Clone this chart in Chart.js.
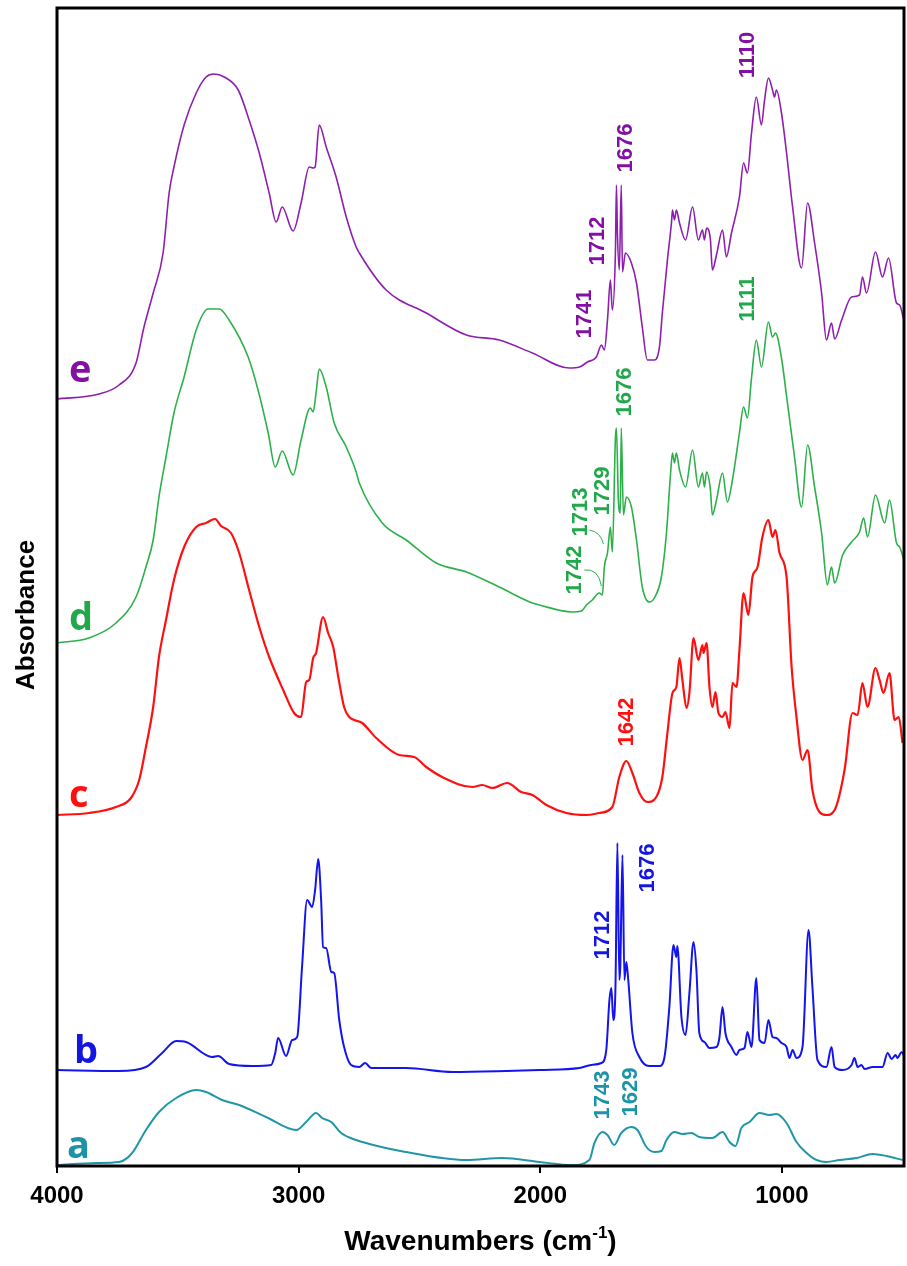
<!DOCTYPE html>
<html>
<head>
<meta charset="utf-8">
<script src="https://cdn.jsdelivr.net/npm/chart.js@4.4.1/dist/chart.umd.min.js"></script>
<style>
  html, body { margin: 0; padding: 0; background: #fff; }
  #wrap { width: 907px; height: 1266px; }
</style>
</head>
<body>
<div id="wrap"><canvas id="ftirChart" width="907" height="1266"></canvas></div>
<script>
// tick labels on the wavenumber axis
const xTicks = [4000, 3000, 2000, 1000];

// spectrum e
const eWave = [4000,3826,3743,3673,3640,3602,3561,3536,3516,3474,3424,3383,3350,3308,3250,3205,3163,3122,3093,3068,3023,2990,2956,2940,2932,2915,2886,2845,2803,2762,2749,2638,2472,2306,2170,2033,1880,1838,1805,1768,1747,1735,1722,1710,1702,1689,1685,1681,1673,1665,1660,1648,1623,1602,1578,1557,1528,1507,1495,1474,1457,1453,1445,1437,1424,1399,1370,1346,1329,1321,1312,1296,1288,1271,1246,1230,1209,1176,1159,1143,1126,1106,1085,1072,1056,1039,1031,1023,1002,981,956,919,894,865,836,816,795,782,753,712,679,667,650,613,584,559,526,513,493];
const eAbs = [7.67,7.72,7.81,8.03,8.39,8.73,9.13,9.73,9.99,10.41,10.73,10.89,10.92,10.89,10.76,10.46,10.13,9.73,9.44,9.59,9.35,9.63,9.99,9.98,9.99,10.41,10.19,9.89,9.49,9.19,9.13,8.76,8.53,8.31,8.26,8.13,7.98,7.99,8.04,8.09,8.21,8.16,8.46,8.86,8.56,9.16,9.81,9.33,8.96,9.81,8.94,9.13,9.03,8.83,8.39,8.06,8.06,8.19,8.53,9.06,9.44,9.56,9.46,9.56,9.43,9.26,9.59,9.26,9.36,9.26,9.38,9.26,8.96,9.11,9.36,9.09,9.33,9.69,10.03,9.93,10.33,10.69,10.41,10.66,10.88,10.76,10.69,10.76,10.53,10.13,9.59,8.98,9.63,9.23,8.73,8.26,8.43,8.27,8.46,8.69,8.71,8.89,8.73,9.14,8.89,9.08,8.63,8.61,8.43];

// spectrum d
const dWave = [4000,3868,3756,3673,3632,3602,3578,3549,3516,3474,3424,3375,3329,3288,3209,3168,3126,3097,3068,3023,2990,2952,2940,2928,2915,2886,2853,2803,2762,2749,2654,2555,2431,2306,2170,2033,2004,1867,1830,1809,1785,1756,1743,1735,1722,1710,1702,1689,1685,1677,1669,1665,1656,1644,1623,1602,1578,1549,1528,1499,1478,1462,1453,1445,1437,1424,1399,1370,1346,1329,1321,1312,1296,1288,1271,1246,1226,1205,1176,1159,1143,1126,1106,1085,1056,1039,1027,1002,981,948,919,894,865,836,812,795,782,749,712,679,662,646,613,575,555,526,513,493];
const dAbs = [5.23,5.28,5.43,5.69,5.99,6.26,6.69,7.09,7.53,7.89,8.36,8.57,8.57,8.46,8.09,7.76,7.33,6.99,7.15,6.91,7.26,7.58,7.54,7.73,7.97,7.79,7.43,7.19,6.94,6.83,6.43,6.26,6.03,5.94,5.79,5.63,5.61,5.54,5.55,5.61,5.66,5.73,5.71,5.99,6.13,6.39,6.14,7.29,7.38,6.66,6.53,7.38,6.51,6.69,6.59,6.26,5.79,5.64,5.68,5.89,6.33,6.89,7.13,7.03,7.13,6.96,6.79,7.16,6.79,6.93,6.79,6.94,6.76,6.51,6.66,6.93,6.64,6.86,7.33,7.59,7.48,7.88,8.26,7.99,8.44,8.29,8.33,8.08,7.70,7.09,6.59,7.21,6.79,6.33,5.81,5.99,5.83,6.11,6.24,6.34,6.48,6.29,6.71,6.43,6.66,6.23,6.19,6.04];

// spectrum c
const cWave = [4000,3868,3756,3694,3660,3632,3602,3578,3549,3516,3474,3424,3383,3346,3321,3280,3246,3205,3163,3122,3064,3019,2990,2969,2956,2940,2928,2899,2878,2857,2836,2812,2791,2737,2679,2584,2522,2472,2406,2281,2240,2199,2137,2079,2033,1975,1892,1809,1756,1702,1673,1644,1619,1590,1557,1520,1495,1474,1453,1437,1424,1412,1395,1383,1366,1346,1329,1325,1312,1300,1288,1275,1263,1246,1234,1217,1205,1188,1176,1159,1139,1122,1101,1081,1056,1039,1027,1010,981,960,940,915,894,874,845,816,782,741,708,687,667,646,613,596,580,555,534,517,501];
const cAbs = [3.51,3.53,3.59,3.68,3.86,4.19,4.59,5.09,5.46,5.86,6.19,6.39,6.43,6.47,6.40,6.33,6.13,5.76,5.39,5.09,4.76,4.53,4.49,4.84,4.86,5.08,5.13,5.49,5.33,5.19,4.89,4.59,4.49,4.43,4.28,4.11,4.09,3.99,3.89,3.79,3.81,3.78,3.83,3.74,3.71,3.61,3.53,3.51,3.53,3.59,3.89,4.05,3.93,3.73,3.64,3.69,3.89,4.33,4.73,4.79,5.08,4.86,4.58,4.73,5.28,5.06,5.21,5.13,5.23,4.79,4.59,4.74,4.53,4.49,4.54,4.38,4.83,4.79,5.16,5.73,5.51,5.89,5.99,6.29,6.46,6.29,6.36,6.13,5.89,4.99,4.49,4.06,4.16,3.76,3.54,3.51,3.56,3.96,4.53,4.51,4.83,4.59,4.98,4.86,4.73,4.93,4.46,4.49,4.23];

// spectrum b
const bWave = [4000,3743,3632,3565,3507,3466,3358,3333,3288,3192,3114,3097,3085,3052,3027,3006,2986,2965,2944,2932,2919,2907,2899,2886,2865,2853,2832,2812,2783,2749,2725,2700,2555,2364,2141,2004,1838,1789,1747,1727,1714,1706,1698,1689,1681,1673,1669,1660,1652,1644,1636,1619,1590,1549,1507,1486,1466,1449,1437,1433,1416,1399,1383,1366,1354,1342,1321,1300,1271,1259,1246,1234,1209,1188,1176,1155,1143,1126,1106,1093,1072,1056,1039,1023,1002,981,969,956,940,915,890,874,853,816,795,782,749,712,700,687,671,658,625,584,563,546,530,522,505,493];
const bAbs = [0.96,0.95,0.99,1.13,1.25,1.24,1.09,1.10,1.02,1.00,1.01,1.13,1.28,1.10,1.26,1.29,1.99,2.66,2.59,2.76,3.07,2.66,2.19,2.18,1.94,1.93,1.46,1.19,1.01,0.99,1.03,0.98,0.98,0.94,0.95,0.96,0.98,1.01,1.03,1.16,1.66,1.78,1.46,1.79,3.23,1.86,1.99,3.11,1.86,2.04,1.86,1.33,1.09,1.00,1.00,1.09,1.59,2.21,2.09,2.20,1.49,1.31,1.73,2.24,1.96,1.33,1.24,1.18,1.19,1.28,1.59,1.33,1.19,1.11,1.16,1.18,1.34,1.19,1.88,1.26,1.23,1.46,1.29,1.28,1.23,1.19,1.08,1.16,1.08,1.19,2.36,1.79,1.06,0.99,1.19,0.99,0.96,1.01,1.08,0.99,1.01,0.97,0.99,0.99,1.13,1.07,1.11,1.08,1.14,1.09];

// spectrum a
const aWave = [4000,3839,3743,3689,3632,3578,3507,3424,3383,3317,3246,3135,3010,2969,2928,2903,2865,2824,2762,2555,2306,2157,2004,1867,1797,1776,1743,1722,1694,1665,1623,1598,1561,1528,1499,1478,1445,1412,1375,1342,1288,1246,1217,1192,1168,1134,1093,1052,1023,981,940,898,857,816,762,691,625,567,501];
const aAbs = [0.01,0.03,0.04,0.13,0.36,0.54,0.68,0.76,0.74,0.66,0.61,0.49,0.36,0.44,0.53,0.48,0.44,0.33,0.26,0.14,0.06,0.08,0.04,0.01,0.06,0.23,0.34,0.31,0.21,0.33,0.39,0.36,0.19,0.14,0.15,0.26,0.34,0.32,0.33,0.29,0.28,0.34,0.24,0.20,0.38,0.44,0.53,0.51,0.52,0.43,0.24,0.13,0.06,0.04,0.06,0.08,0.12,0.10,0.06];

// curve names with where the letter sits (wavenumber, absorbance)
const curveNames = ['e', 'd', 'c', 'b', 'a'];
const nameWave = [3950, 3950, 3950, 3930, 3959];
const nameAbs = [7.84, 5.36, 3.59, 1.03, 0.08];

// peak labels: text, curve, wavenumber and absorbance of the label centre
const peakText  = ['1110','1676','1712','1741','1111','1676','1729','1713','1742','1642','1676','1712','1743','1629'];
const peakCurve = ['e','e','e','e','d','d','d','d','d','c','b','b','a','a'];
const peakWave  = [1143,1648,1764,1818,1143,1652,1743,1838,1859,1644,1557,1743,1747,1631];
const peakAbs   = [11.11,10.18,9.25,8.52,8.67,7.74,6.75,6.54,5.96,4.44,2.98,2.31,0.71,0.74];

const lineColor = { e: '#8E1EB0', d: '#2DB04A', c: '#FF1010', b: '#1414EE', a: '#2097A8' };
const textColor = { e: '#8210A2', d: '#20A84A', c: '#FF1010', b: '#1515E0', a: '#1C93A6' };
const lineWidth = { e: 1.6, d: 1.6, c: 2.2, b: 2, a: 2 };

const series = { e: [eWave, eAbs], d: [dWave, dAbs], c: [cWave, cAbs], b: [bWave, bAbs], a: [aWave, aAbs] };

function toPoints(w, v) {
  const n = Math.min(w.length, v.length);
  const pts = [];
  for (let i = 0; i < n; i++) pts.push({ x: w[i], y: v[i] });
  return pts;
}

const datasets = curveNames.map(k => ({
  label: k,
  data: toPoints(series[k][0], series[k][1]),
  borderColor: lineColor[k],
  borderWidth: lineWidth[k],
  pointRadius: 0,
  fill: false,
  cubicInterpolationMode: 'monotone'
}));

const overlay = {
  id: 'overlay',
  afterDraw(chart) {
    const { ctx, chartArea: a, scales: { x, y } } = chart;
    ctx.save();

    // frame
    ctx.strokeStyle = '#000';
    ctx.lineWidth = 3;
    ctx.strokeRect(a.left, a.top, a.right - a.left, a.bottom - a.top);

    // curve letters
    ctx.font = 'bold 38px "Open Sans"';
    ctx.textAlign = 'left';
    ctx.textBaseline = 'alphabetic';
    curveNames.forEach((k, i) => {
      ctx.fillStyle = textColor[k];
      ctx.fillText(k, x.getPixelForValue(nameWave[i]), y.getPixelForValue(nameAbs[i]));
    });

    // peak labels, rotated
    ctx.font = 'bold 22px "Liberation Sans"';
    ctx.textAlign = 'center';
    ctx.textBaseline = 'middle';
    peakText.forEach((t, i) => {
      ctx.save();
      ctx.translate(x.getPixelForValue(peakWave[i]), y.getPixelForValue(peakAbs[i]));
      ctx.rotate(-Math.PI / 2);
      ctx.fillStyle = textColor[peakCurve[i]];
      ctx.fillText(t, 0, 1);
      ctx.restore();
    });

    // small leader marks for 1742 and 1713
    ctx.strokeStyle = lineColor.d;
    ctx.lineWidth = 1;
    ctx.beginPath();
    ctx.moveTo(x.getPixelForValue(1818), y.getPixelForValue(5.96));
    ctx.quadraticCurveTo(x.getPixelForValue(1760), y.getPixelForValue(5.98), x.getPixelForValue(1747), y.getPixelForValue(5.80));
    ctx.moveTo(x.getPixelForValue(1797), y.getPixelForValue(6.36));
    ctx.quadraticCurveTo(x.getPixelForValue(1750), y.getPixelForValue(6.34), x.getPixelForValue(1739), y.getPixelForValue(6.22));
    ctx.stroke();

    // axis titles
    ctx.fillStyle = '#000';
    ctx.save();
    ctx.translate(27, 615);
    ctx.rotate(-Math.PI / 2);
    ctx.font = 'bold 26px "Liberation Sans"';
    ctx.textAlign = 'center';
    ctx.textBaseline = 'middle';
    ctx.fillText('Absorbance', 0, 0);
    ctx.restore();

    const main = 'Wavenumbers (cm', sup = '-1', close = ')';
    ctx.textBaseline = 'alphabetic';
    ctx.textAlign = 'left';
    ctx.font = 'bold 28px "Liberation Sans"';
    const w1 = ctx.measureText(main).width;
    const w3 = ctx.measureText(close).width;
    ctx.font = 'bold 17px "Liberation Sans"';
    const w2 = ctx.measureText(sup).width;
    let px = (a.left + a.right) / 2 - (w1 + w2 + w3) / 2;
    const base = 1250;
    ctx.font = 'bold 28px "Liberation Sans"';
    ctx.fillText(main, px, base);
    px += w1;
    ctx.font = 'bold 17px "Liberation Sans"';
    ctx.fillText(sup, px, base - 12);
    px += w2;
    ctx.font = 'bold 28px "Liberation Sans"';
    ctx.fillText(close, px, base);

    ctx.restore();
  }
};

new Chart(document.getElementById('ftirChart'), {
  type: 'line',
  data: { datasets },
  options: {
    responsive: false,
    animation: false,
    devicePixelRatio: 1,
    layout: { padding: { left: 57, right: 3, top: 8, bottom: 0 } },
    plugins: { legend: { display: false }, tooltip: { enabled: false } },
    scales: {
      x: {
        type: 'linear',
        reverse: true,
        min: 495,
        max: 4000,
        afterBuildTicks: s => { s.ticks = xTicks.map(v => ({ value: v })); },
        afterFit: s => { s.height = 100; },
        ticks: {
          color: '#000',
          font: { family: 'Liberation Sans', size: 24, weight: 'bold' },
          padding: 9,
          maxRotation: 0,
          autoSkip: false,
          callback: v => String(v)
        },
        grid: { display: true, drawOnChartArea: false, drawTicks: true, tickLength: 7, color: '#000', lineWidth: 2 },
        border: { display: false }
      },
      y: { display: false, min: 0, max: 11.58 }
    }
  },
  plugins: [overlay]
});
</script>
</body>
</html>
